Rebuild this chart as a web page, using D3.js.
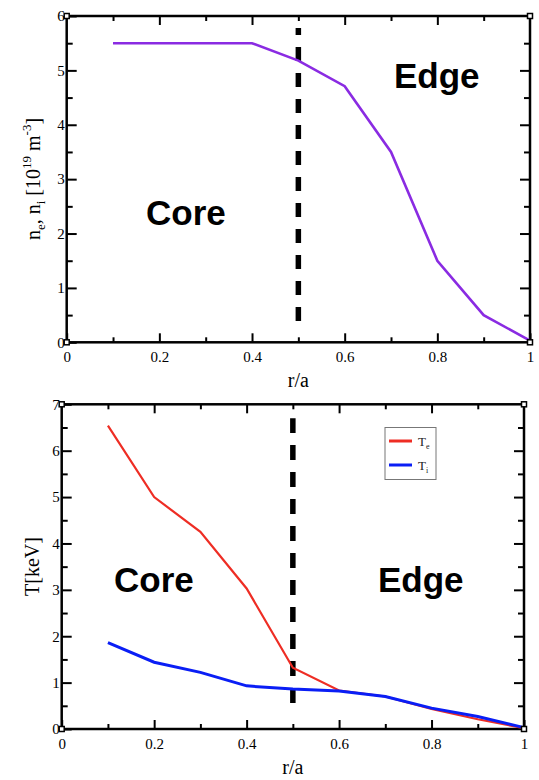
<!DOCTYPE html>
<html>
<head>
<meta charset="utf-8">
<script src="https://cdn.jsdelivr.net/npm/d3@7/dist/d3.min.js"></script>
<style>
  html, body { margin: 0; padding: 0; background: #fff; }
  svg { display: block; }
</style>
</head>
<body>
<svg id="chart" width="539" height="780"></svg>
<script>
// ---- data ----
const rA = [0.1, 0.2, 0.3, 0.4, 0.5, 0.6, 0.7, 0.8, 0.9, 1.0];
const density = [5.5, 5.5, 5.5, 5.5, 5.18, 4.71, 3.5, 1.5, 0.5, 0.03];
const Te = [6.54, 5.0, 4.25, 3.03, 1.32, 0.83, 0.70, 0.43, 0.21, 0.02];
const Ti = [1.86, 1.44, 1.22, 0.93, 0.86, 0.82, 0.70, 0.45, 0.27, 0.03];
const xMajorTicks = [0, 0.2, 0.4, 0.6, 0.8, 1];
const xMinorTicks = [0.1, 0.3, 0.5, 0.7, 0.9];
const yTopMajor = [0, 1, 2, 3, 4, 5, 6];
const yTopMinor = [0.5, 1.5, 2.5, 3.5, 4.5, 5.5];
const yBotMajor = [0, 1, 2, 3, 4, 5, 6, 7];
const yBotMinor = [0.5, 1.5, 2.5, 3.5, 4.5, 5.5, 6.5];
const boundary = 0.5;

const svg = d3.select("#chart");
const serif = "'Liberation Serif', 'DejaVu Serif', serif";
const sans = "'Liberation Sans', Arial, sans-serif";

function panel(opts) {
  const { x0, x1, yTop, yBot, yMax, yMajor, yMinor } = opts;
  const x = d3.scaleLinear().domain([0, 1]).range([x0, x1]);
  const y = d3.scaleLinear().domain([0, yMax]).range([yBot, yTop]);
  const g = svg.append("g");

  function axisG(axis, tx, ty, showLabels) {
    const a = g.append("g").attr("transform", `translate(${tx},${ty})`).call(axis);
    a.attr("font-family", serif).attr("font-size", 15);
    a.select(".domain").remove();
    a.selectAll(".tick line").attr("stroke", "#000").attr("stroke-width", 2);
    if (!showLabels) a.selectAll(".tick text").remove();
    return a;
  }
  // bottom axis
  const bMaj = axisG(d3.axisBottom(x).tickValues(xMajorTicks).tickSize(-9).tickSizeOuter(0)
    .tickFormat(d => String(d)), 0, yBot, true);
  bMaj.selectAll(".tick text").attr("fill", "#000").attr("dy", "0.71em").attr("y", 9);
  axisG(d3.axisBottom(x).tickValues(xMinorTicks).tickSize(-5).tickFormat(""), 0, yBot, false);
  // top axis
  axisG(d3.axisTop(x).tickValues(xMajorTicks.filter(v => v > 0 && v < 1)).tickSize(-9).tickFormat(""), 0, yTop, false);
  axisG(d3.axisTop(x).tickValues(xMinorTicks).tickSize(-5).tickFormat(""), 0, yTop, false);
  // left axis
  const lMaj = axisG(d3.axisLeft(y).tickValues(yMajor).tickSize(-10).tickFormat(d3.format("d")), x0, 0, true);
  lMaj.selectAll(".tick text").attr("fill", "#000").attr("x", -2);
  axisG(d3.axisLeft(y).tickValues(yMinor).tickSize(-6).tickFormat(""), x0, 0, false);
  // right axis
  axisG(d3.axisRight(y).tickValues(yMajor.filter(v => v > 0 && v < yMax)).tickSize(-10).tickFormat(""), x1, 0, false);
  axisG(d3.axisRight(y).tickValues(yMinor).tickSize(-6).tickFormat(""), x1, 0, false);

  // frame
  g.append("rect").attr("x", x0).attr("y", yTop).attr("width", x1 - x0).attr("height", yBot - yTop)
    .attr("fill", "none").attr("stroke", "#000").attr("stroke-width", 2.5);

  // x title
  g.append("text").attr("x", x(0.5)).attr("y", yBot + 45).attr("text-anchor", "middle")
    .attr("font-family", serif).attr("font-size", 20).text("r/a");

  return { g, x, y };
}

// ---- top panel ----
const topP = panel({ x0: 66.7, x1: 530, yTop: 16, yBot: 342.3, yMax: 6, yMajor: yTopMajor, yMinor: yTopMinor });
topP.g.append("line").attr("x1", topP.x(boundary)).attr("x2", topP.x(boundary))
  .attr("y1", topP.y(0.39)).attr("y2", topP.y(5.78))
  .attr("stroke", "#000").attr("stroke-width", 5.5).attr("stroke-dasharray", "14,12");
topP.g.append("path").datum(rA.map((r, i) => [r, density[i]]))
  .attr("d", d3.line().x(d => topP.x(d[0])).y(d => topP.y(d[1])))
  .attr("fill", "none").attr("stroke", "#8a2be2").attr("stroke-width", 2.6);
const tt = topP.g.append("text").attr("transform", `translate(40,179) rotate(-90)`)
  .attr("text-anchor", "middle").attr("font-family", serif).attr("font-size", 20);
tt.append("tspan").text("n");
tt.append("tspan").attr("font-size", 13).attr("dy", 5).text("e");
tt.append("tspan").attr("dy", -5).text(", n");
tt.append("tspan").attr("font-size", 13).attr("dy", 5).text("i");
tt.append("tspan").attr("dy", -5).text(" [10");
tt.append("tspan").attr("font-size", 13).attr("dy", -9).text("19");
tt.append("tspan").attr("dy", 9).text(" m");
tt.append("tspan").attr("font-size", 13).attr("dy", -9).text("-3");
tt.append("tspan").attr("dy", 9).text("]");
topP.g.append("text").attr("x", 146).attr("y", 225).attr("font-family", sans).attr("font-weight", "bold")
  .attr("font-size", 35).text("Core");
topP.g.append("text").attr("x", 394).attr("y", 88).attr("font-family", sans).attr("font-weight", "bold")
  .attr("font-size", 35).text("Edge");

// ---- bottom panel ----
const botP = panel({ x0: 61.7, x1: 524, yTop: 404.3, yBot: 729, yMax: 7, yMajor: yBotMajor, yMinor: yBotMinor });
botP.g.append("line").attr("x1", botP.x(boundary)).attr("x2", botP.x(boundary))
  .attr("y1", botP.y(0.56)).attr("y2", botP.y(6.7))
  .attr("stroke", "#000").attr("stroke-width", 5.5).attr("stroke-dasharray", "15,12");
botP.g.append("path").datum(rA.map((r, i) => [r, Te[i]]))
  .attr("d", d3.line().x(d => botP.x(d[0])).y(d => botP.y(d[1])))
  .attr("fill", "none").attr("stroke", "#ee2d24").attr("stroke-width", 2.2);
botP.g.append("path").datum(rA.map((r, i) => [r, Ti[i]]))
  .attr("d", d3.line().x(d => botP.x(d[0])).y(d => botP.y(d[1])))
  .attr("fill", "none").attr("stroke", "#0a1ef5").attr("stroke-width", 3);
botP.g.append("text").attr("transform", `translate(39,566.5) rotate(-90)`)
  .attr("text-anchor", "middle").attr("font-family", serif).attr("font-size", 20).text("T[keV]");
botP.g.append("text").attr("x", 114).attr("y", 592).attr("font-family", sans).attr("font-weight", "bold")
  .attr("font-size", 35).text("Core");
botP.g.append("text").attr("x", 378).attr("y", 592).attr("font-family", sans).attr("font-weight", "bold")
  .attr("font-size", 35).text("Edge");

// legend
const leg = botP.g.append("g");
leg.append("rect").attr("x", 385).attr("y", 427.5).attr("width", 51).attr("height", 52)
  .attr("fill", "#fff").attr("stroke", "#777").attr("stroke-width", 1);
const legItems = [["e", "#ee2d24", 441], ["i", "#0a1ef5", 465]];
legItems.forEach(([s, c, yy]) => {
  leg.append("line").attr("x1", 389).attr("x2", 412).attr("y1", yy).attr("y2", yy)
    .attr("stroke", c).attr("stroke-width", 3);
  const t = leg.append("text").attr("x", 418).attr("y", yy + 5).attr("font-family", serif)
    .attr("font-size", 13).attr("fill", "#222");
  t.append("tspan").text("T");
  t.append("tspan").attr("font-size", 8).attr("dy", 3).text(s);
});

// corner markers
[[topP, 66.7, 16], [topP, 66.7, 342.3], [topP, 530, 342.3], [topP, 530, 16],
 [botP, 61.7, 404.3], [botP, 61.7, 729], [botP, 524, 729], [botP, 524, 404.3]].forEach(([p, cx, cy]) => {
  p.g.append("rect").attr("x", cx - 2.5).attr("y", cy - 2.5).attr("width", 5).attr("height", 5)
    .attr("fill", "#fff").attr("stroke", "#000").attr("stroke-width", 1.5);
});
</script>
</body>
</html>
